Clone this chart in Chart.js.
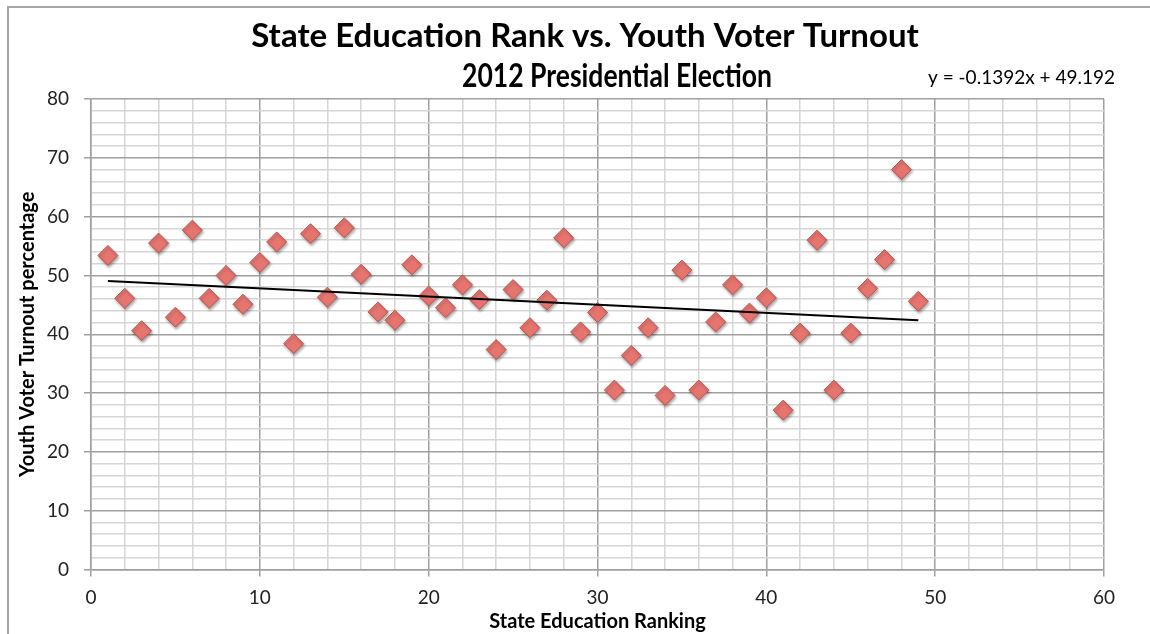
<!DOCTYPE html>
<html>
<head>
<meta charset="utf-8">
<script src="https://cdn.jsdelivr.net/npm/chart.js@4.4.0/dist/chart.umd.min.js"></script>
<style>
  html, body { margin: 0; padding: 0; background: #fff; overflow: hidden; }
  #frame {
    position: absolute; left: 7px; top: 6px; width: 1300px; height: 800px;
    border-left: 2px solid #a6a6a6; border-top: 2px solid #a6a6a6;
  }
  #wrap { position: absolute; left: 0; top: 0; width: 1150px; height: 634px; }
</style>
</head>
<body>
<div id="frame"></div>
<div id="wrap"><canvas id="chart"></canvas></div>
<script>
// state education ranking (x) and youth turnout % (y)
const ranks = [1,2,3,4,5,6,7,8,9,10,11,12,13,14,15,16,17,18,19,20,21,22,23,24,25,
               26,27,28,29,30,31,32,33,34,35,36,37,38,39,40,41,42,43,44,45,46,47,48,49];
const turnout = [53.4,46.1,40.6,55.5,42.9,57.7,46.1,50.0,45.1,52.2,55.7,38.4,57.1,46.3,58.1,
                 50.2,43.8,42.4,51.8,46.5,44.5,48.4,45.9,37.4,47.6,41.1,45.8,56.4,40.4,43.7,
                 30.5,36.4,41.1,29.6,50.9,30.5,42.1,48.4,43.6,46.2,27.1,40.2,56.0,30.5,40.2,
                 47.8,52.7,68.0,45.6];
// linear trendline as printed on the chart
const slope = -0.1392;
const intercept = 49.192;
const titleLines = ["State Education Rank vs. Youth Voter Turnout", "2012 Presidential Election"];

const points = ranks.map((r, i) => ({x: r, y: turnout[i]}));
const xFirst = ranks[0], xLast = ranks[ranks.length - 1];
const trend = [
    {x: xFirst, y: slope * xFirst + intercept},
    {x: xLast, y: slope * xLast + intercept}
];

const FONT = "Lato, 'Open Sans', sans-serif";

// title (two lines, second one sits a bit right like the original) + trend equation
const chartText = {
    id: 'chartText',
    afterDraw(chart){
        const ctx = chart.ctx;
        const area = chart.chartArea;
        ctx.save();
        ctx.fillStyle = "#000";
        ctx.textBaseline = "alphabetic";
        ctx.textAlign = "center";
        ctx.font = "bold 33px " + FONT;
        ctx.fillText(titleLines[0], 585, 47);
        ctx.font = "bold 32px " + FONT;
        ctx.fillText(titleLines[1], 617, 87, 310);
        ctx.font = "19px " + FONT;
        ctx.textAlign = "right";
        ctx.fillText("y = " + slope + "x + " + intercept.toFixed(3), area.right + 11, area.top - 15);
        ctx.restore();
    }
};

const markerShadow = {
    id: 'markerShadow',
    beforeDatasetDraw(chart, args){
        if(args.index !== 1) return;
        const ctx = chart.ctx;
        ctx.save();
        ctx.shadowColor = "rgba(0,0,0,0.35)";
        ctx.shadowBlur = 3;
        ctx.shadowOffsetX = 1;
        ctx.shadowOffsetY = 2;
    },
    afterDatasetDraw(chart, args){
        if(args.index !== 1) return;
        chart.ctx.restore();
    }
};

function gridColor(c){
    return c.tick && c.tick.value % 10 === 0 ? "#a0a0a0" : "#d6d6d6";
}
function tickColor(c){
    return c.tick && c.tick.value % 10 === 0 ? "#a0a0a0" : "rgba(0,0,0,0)";
}

new Chart(document.getElementById("chart"), {
    type: 'scatter',
    data: {
        datasets: [{
            type: 'line',
            label: 'Trend',
            data: trend,
            borderColor: '#000',
            borderWidth: 2,
            pointRadius: 0,
            fill: false,
            order: 0
        }, {
            label: 'Turnout',
            data: points,
            pointStyle: 'rectRot',
            pointRadius: 10,
            pointHoverRadius: 10,
            backgroundColor: '#e7756f',
            borderColor: '#bb5450',
            borderWidth: 1,
            order: 1
        }]
    },
    plugins: [chartText, markerShadow],
    options: {
        responsive: true,
        maintainAspectRatio: false,
        animation: false,
        layout: { padding: { left: 9, right: 46, top: 99, bottom: 0 } },
        plugins: {
            legend: { display: false },
            tooltip: { enabled: false },
            title: { display: false }
        },
        scales: {
            x: {
                type: 'linear',
                min: 0, max: 60,
                afterFit(scale){ scale.height = 64.5; },
                ticks: {
                    stepSize: 2,
                    autoSkip: false,
                    maxRotation: 0,
                    padding: 10,
                    color: '#222',
                    font: { family: FONT, size: 19 },
                    callback: v => v % 10 === 0 ? v : ''
                },
                grid: { color: gridColor, tickColor: tickColor, lineWidth: 1.5, tickLength: 7 },
                border: { color: '#a0a0a0', width: 1.5 },
                title: {
                    display: true,
                    text: 'State Education Ranking',
                    color: '#000',
                    font: { family: FONT, size: 20, weight: 'bold' },
                    padding: { top: 0, bottom: 0 }
                }
            },
            y: {
                type: 'linear',
                min: 0, max: 80,
                afterFit(scale){ scale.width = 82; },
                ticks: {
                    stepSize: 2,
                    autoSkip: false,
                    padding: 15,
                    color: '#222',
                    font: { family: FONT, size: 19 },
                    callback: v => v % 10 === 0 ? v : ''
                },
                grid: { color: gridColor, tickColor: tickColor, lineWidth: 1.5, tickLength: 7 },
                border: { color: '#a0a0a0', width: 1.5 },
                title: {
                    display: true,
                    text: 'Youth Voter Turnout percentage',
                    color: '#000',
                    font: { family: FONT, size: 20, weight: 'bold' },
                    padding: { top: 7, bottom: 0 }
                }
            }
        }
    }
});
</script>
</body>
</html>
